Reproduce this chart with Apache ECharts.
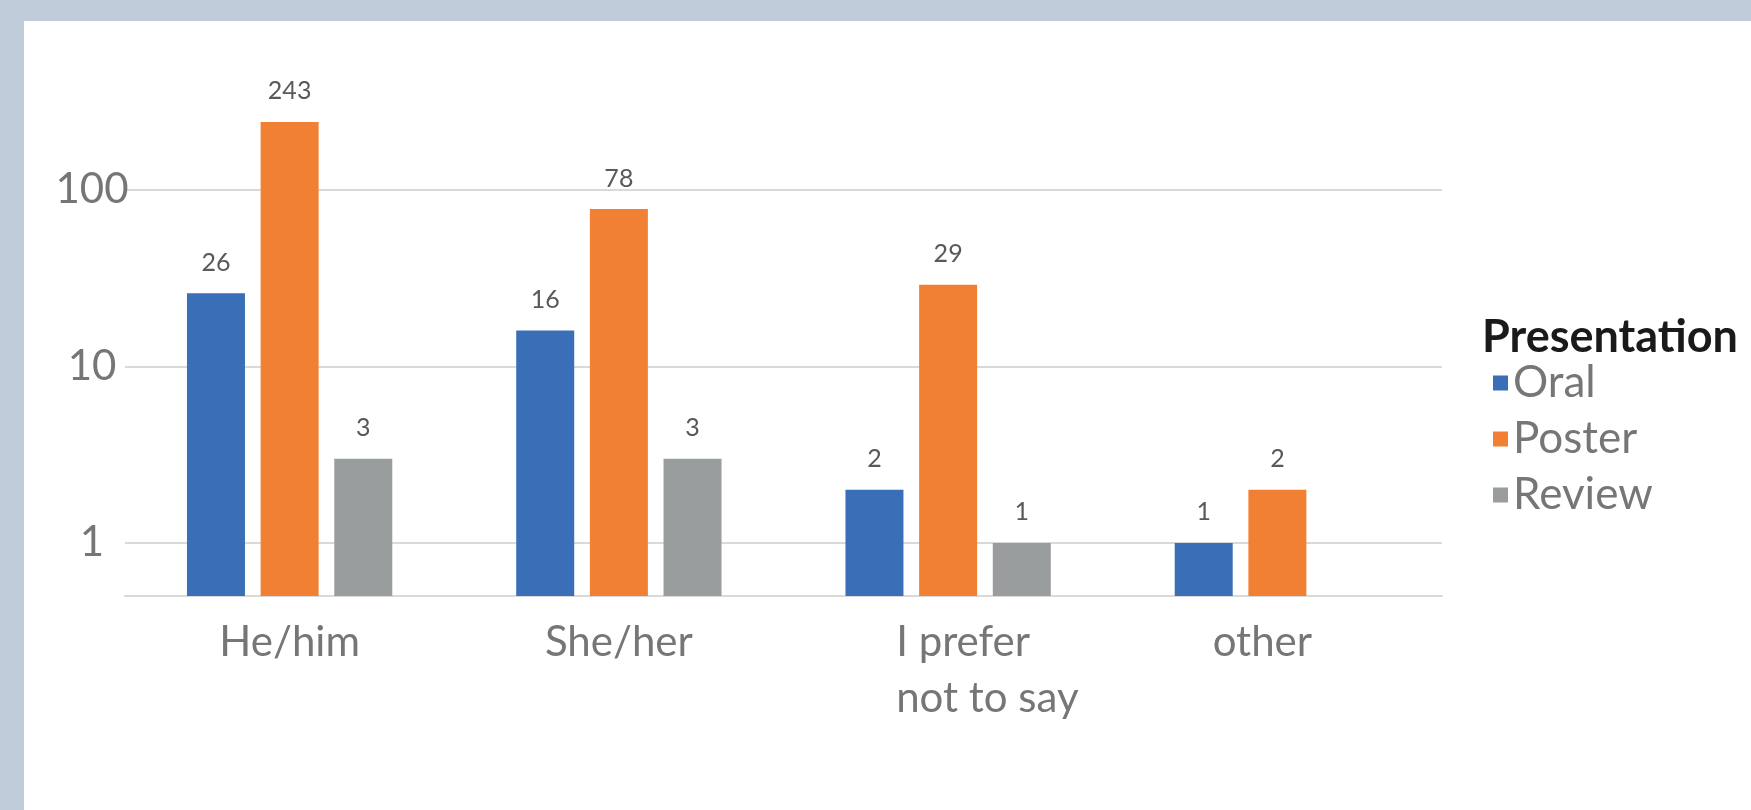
<!DOCTYPE html>
<html>
<head>
<meta charset="utf-8">
<script src="https://cdn.jsdelivr.net/npm/echarts@6/dist/echarts.min.js"></script>
<style>
  html, body { margin: 0; padding: 0; background: #ffffff; }
  #chart { width: 1751px; height: 810px; }
</style>
</head>
<body>
<div id="chart"></div>
<script>
// ---- data ----
const categories = ['He/him', 'She/her', 'I prefer\nnot to say', 'other'];
const seriesNames = ['Oral', 'Poster', 'Review'];
const oralValues = [26, 16, 2, 1];
const posterValues = [243, 78, 29, 2];
const reviewValues = [3, 3, 1, null];
const yTickLabels = [1, 10, 100];
const legendTitle = 'Presentation';

const colors = ['#3a6fb7', '#f28034', '#999d9d'];
const FONT = 'Lato';
const axisTextColor = '#767676';

const chart = echarts.init(document.getElementById('chart'), null, { renderer: 'canvas' });

function makeSeries(name, values, color) {
  return {
    name: name,
    type: 'bar',
    data: values,
    barWidth: 58,
    barGap: '27%',
    itemStyle: { color: color },
    label: {
      show: true,
      position: 'top',
      distance: 18,
      color: '#595959',
      fontFamily: FONT,
      fontSize: 25
    }
  };
}

const option = {
  backgroundColor: '#ffffff',
  animation: false,
  color: colors,
  graphic: [
    { type: 'rect', z: 100, shape: { x: 0, y: 0, width: 1751, height: 21 }, style: { fill: '#c0ccda' } },
    { type: 'rect', z: 100, shape: { x: 0, y: 0, width: 24, height: 810 }, style: { fill: '#c0ccda' } }
  ],
  title: {
    text: legendTitle,
    left: 1482,
    top: 314,
    padding: 0,
    textStyle: { fontFamily: FONT, fontSize: 45, fontWeight: 'bold', color: '#1a1a1a', lineHeight: 46 }
  },
  legend: {
    orient: 'vertical',
    left: 1493,
    top: 361,
    padding: 0,
    itemWidth: 15,
    itemHeight: 15,
    itemGap: 12,
    icon: 'rect',
    data: seriesNames,
    textStyle: { fontFamily: FONT, fontSize: 44, color: axisTextColor, lineHeight: 44 }
  },
  grid: {
    left: 125,
    right: 309,
    top: 66.6,
    bottom: 214,
    containLabel: false
  },
  xAxis: {
    type: 'category',
    data: categories,
    axisLine: { show: true, lineStyle: { color: '#d9d9d9', width: 2 } },
    axisTick: { show: false },
    axisLabel: {
      interval: 0,
      margin: 18,
      fontFamily: FONT,
      fontSize: 42,
      lineHeight: 56,
      color: axisTextColor,
      formatter: function (v) {
        if (v.indexOf('\n') >= 0) {
          return v.split('\n').map(function (s) { return '{l|' + s + '}'; }).join('\n');
        }
        if (v === 'other') return '{o|' + v + '}';
        return v;
      },
      rich: {
        l: { width: 104, align: 'left', fontFamily: FONT, fontSize: 42, lineHeight: 56, color: axisTextColor },
        o: { padding: [0, 30, 0, 0], fontFamily: FONT, fontSize: 42, lineHeight: 56, color: axisTextColor }
      }
    }
  },
  yAxis: {
    type: 'log',
    logBase: 10,
    min: 0.5,
    max: 500,
    startValue: 0.5,
    axisLine: { show: false },
    axisTick: { show: false },
    splitLine: { show: true, showMinLine: false, showMaxLine: false, lineStyle: { color: '#d9d9d9', width: 2 } },
    axisLabel: {
      margin: 33,
      align: 'center',
      fontFamily: FONT,
      fontSize: 42,
      color: axisTextColor,
      showMinLabel: false,
      showMaxLabel: false,
      formatter: function (v) {
        for (let i = 0; i < yTickLabels.length; i++) {
          if (Math.abs(v - yTickLabels[i]) < 1e-6 * yTickLabels[i]) return String(yTickLabels[i]);
        }
        return '';
      }
    }
  },
  series: [
    makeSeries(seriesNames[0], oralValues, colors[0]),
    makeSeries(seriesNames[1], posterValues, colors[1]),
    makeSeries(seriesNames[2], reviewValues, colors[2])
  ]
};

chart.setOption(option);
</script>
</body>
</html>
